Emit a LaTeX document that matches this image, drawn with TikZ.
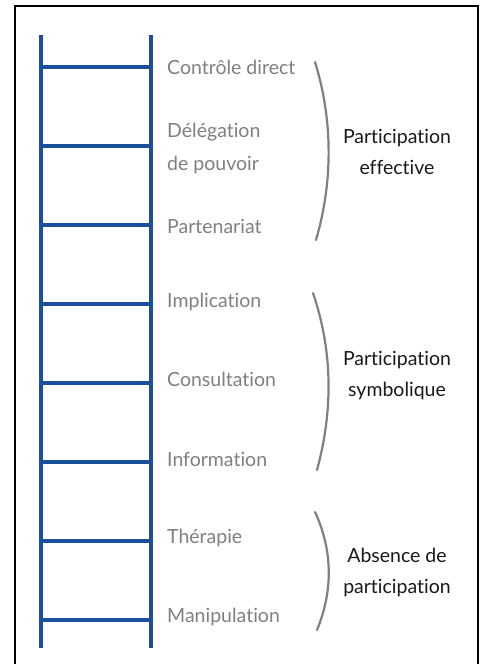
\documentclass[tikz,border=0pt]{standalone}
\usepackage{fontspec}
\setmainfont[Ligatures=NoCommon]{Lato}
\definecolor{ladderblue}{HTML}{1B4F9C}
\definecolor{labelgray}{HTML}{808080}
\definecolor{groupdark}{HTML}{1A1A1A}
\begin{document}
\begin{tikzpicture}[x=1pt,y=-1pt,
  rail/.style={ladderblue,line width=4.5pt},
  rung/.style={ladderblue,line width=4.5pt},
  steplabel/.style={anchor=west,text=labelgray,font=\fontsize{19.5}{33}\selectfont,align=left,inner sep=0pt},
  grouplabel/.style={text=groupdark,font=\fontsize{19.5}{31}\selectfont,align=center,inner sep=0pt},
  paren/.style={labelgray,line width=2.2pt,line cap=round}]
\useasboundingbox (0,0) rectangle (480,664);
\fill[white] (0,0) rectangle (480,664);
\draw[line width=2.6pt] (15,670) -- (15,6) -- (478,6) -- (478,670);
% rails
\coordinate (lt) at (41,35); \coordinate (lb) at (41,648);
\coordinate (rt) at (151,35); \coordinate (rb) at (151,648);
\draw[rail] (lt) -- (lb);
\draw[rail] (rt) -- (rb);
% rungs
\foreach \i/\y in {1/67,2/146,3/225,4/304,5/383,6/462,7/541,8/620}{
  \coordinate (rl\i) at (41,\y); \coordinate (rr\i) at (151,\y);
  \draw[rung] (rl\i) -- (rr\i);
}
% step labels
\node[steplabel] (s1) at (167,67) {Contrôle direct};
\node[steplabel] (s2) at (167,148) {Délégation\\de pouvoir};
\node[steplabel] (s3) at (167,226) {Partenariat};
\node[steplabel] (s4) at (167,302) {Implication};
\node[steplabel] (s5) at (167,379) {Consultation};
\node[steplabel] (s6) at (167,459) {Information};
\node[steplabel] (s7) at (167,538) {Thérapie};
\node[steplabel] (s8) at (167,617) {Manipulation};
% parentheses
\coordinate (p1a) at (315,62); \coordinate (p1b) at (316,240);
\coordinate (p2a) at (313,293); \coordinate (p2b) at (317,470);
\coordinate (p3a) at (315,512); \coordinate (p3b) at (317,630);
\draw[paren] (p1a) .. controls (333,120) and (333,182) .. (p1b);
\draw[paren] (p2a) .. controls (333,352) and (333,411) .. (p2b);
\draw[paren] (p3a) .. controls (333,551) and (333,591) .. (p3b);
% group labels
\node[grouplabel] (g1) at (397,152) {Participation\\effective};
\node[grouplabel] (g2) at (397,376) {Participation\\symbolique};
\node[grouplabel] (g3) at (397,572) {Absence de\\participation};
\end{tikzpicture}
\end{document}
